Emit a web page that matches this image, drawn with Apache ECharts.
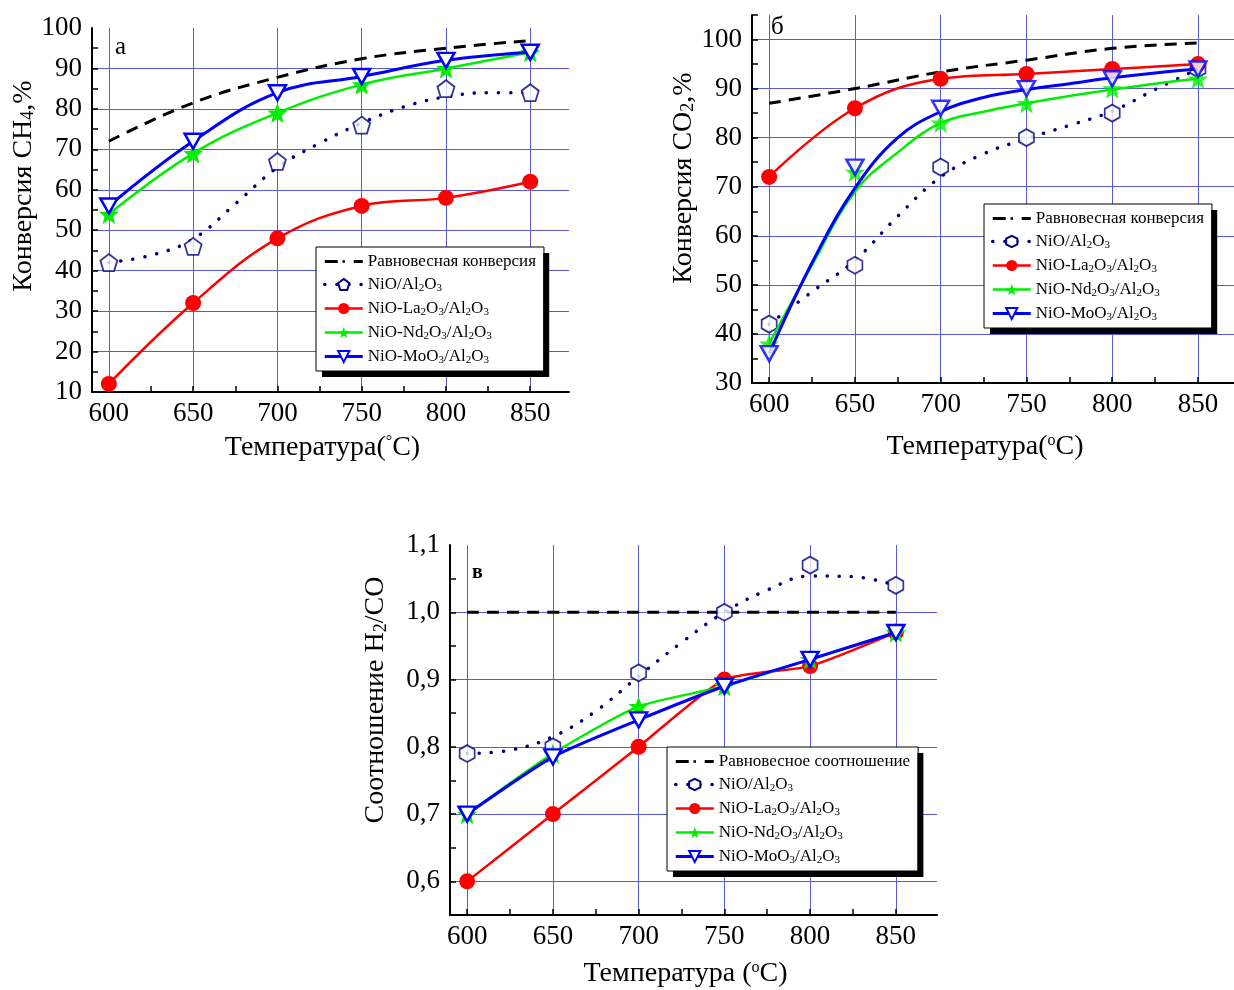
<!DOCTYPE html>
<html>
<head>
<meta charset="utf-8">
<script src="https://cdn.jsdelivr.net/npm/echarts@6/dist/echarts.min.js"></script>
<style>
  html, body { margin: 0; padding: 0; background: #fff; }
  #main { width: 1234px; height: 990px; }
</style>
</head>
<body>
<div id="main"></div>
<script>
// температуры (°C)
const temps = [600, 650, 700, 750, 800, 850];
const fitTemps = [600, 625, 650, 675, 700, 725, 750, 775, 800, 825, 850];

// панель а: конверсия CH4, %
const aEquil = [72, 81.5, 87.8, 92.4, 95, 96.9];
const aNiO = [42, 46, 67, 76, 85, 84];
const aNiOFit = [42, 43.8, 47.8, 56.5, 65.5, 71.5, 76.5, 80.5, 83, 84, 84];
const aLa = [12, 32, 48, 56, 58, 62];
const aNd = [54, 69, 79, 86, 90, 94];
const aMo = [56, 72, 84, 88, 92, 94];

// панель б: конверсия CO2, %
const bEquil = [87, 90, 93.4, 95.8, 98.2, 99.3];
const bNiO = [42, 54, 74, 80, 85, 94];
const bNiOFit = [42, 48.6, 55, 64, 72, 76.7, 79.8, 82.5, 85.4, 89.8, 94];
const bLa = [72, 86, 92, 93, 94, 95];
const bNd = [38, 73, 83, 87, 90, 92];
const bNdFit = [38, 54, 69, 77, 83, 85.3, 87, 88.5, 89.8, 91, 92];
const bMo = [36, 74, 86, 90, 92, 94];
const bMoFit = [36, 54.5, 69.7, 80, 85.3, 88.2, 89.8, 91, 92.2, 93.2, 94];

// панель в: соотношение H2/CO
const cEquil = [1, 1, 1, 1, 1, 1];
const cNiO = [0.79, 0.80, 0.91, 1.00, 1.07, 1.04];
const cNiOFit = [0.79, 0.795, 0.815, 0.853, 0.905, 0.955, 1.0, 1.033, 1.054, 1.053, 1.04];
const cLa = [0.60, 0.70, 0.80, 0.90, 0.92, 0.97];
const cNd = [0.70, 0.79, 0.86, 0.89, 0.93, 0.97];
const cMo = [0.70, 0.785, 0.84, 0.89, 0.93, 0.97];

// деления осей
const xMajor = [600, 650, 700, 750, 800, 850];
const xMinor = [625, 675, 725, 775, 825];
const aYLabels = [10, 20, 30, 40, 50, 60, 70, 80, 90, 100];
const aYGrid = [20, 30, 40, 50, 60, 70, 80, 90];
const aYMinor = [15, 25, 35, 45, 55, 65, 75, 85, 95];
const bYLabels = [30, 40, 50, 60, 70, 80, 90, 100];
const bYGrid = [40, 50, 60, 70, 80, 90, 100];
const bYMinor = [35, 45, 55, 65, 75, 85, 95, 105];
const cYLabels = [0.6, 0.7, 0.8, 0.9, 1.0, 1.1];
const cYGrid = [0.6, 0.7, 0.8, 0.9, 1.0];
const cYMinor = [0.65, 0.75, 0.85, 0.95, 1.05];

const FONT = 'Liberation Serif';
const NAVY = '#000080';
const RED = '#ff0000';
const GREEN = '#00ee00';
const BLUE = '#0000ff';
const GRID_BLUE = '#5a5ad6';

const PENTAGON = 'path://M0,-10 L9.51,-3.09 L5.88,8.09 L-5.88,8.09 L-9.51,-3.09 Z';
const HEXAGON = 'path://M0,-10 L8.66,-5 L8.66,5 L0,10 L-8.66,5 L-8.66,-5 Z';
const STAR = 'path://M0,-10 L2.6,-3.09 L9.51,-3.09 L4.1,1.3 L5.88,8.09 L0,4.3 L-5.88,8.09 L-4.1,1.3 L-9.51,-3.09 L-2.6,-3.09 Z';
const TRIANGLE = 'path://M-10,-8 L10,-8 L0,9 Z';
// точка для значка «— · —» в легенде
const DOT = 'path://M-1,-1 h2 v2 h-2 Z M-4.5,-4.5 h0.01 v0.01 h-0.01 Z M4.5,4.5 h0.01 v0.01 h-0.01 Z';

const sub = (t) => '{s|' + t + '}';
const nrm = (t) => '{n|' + t + '}';
const legendLabels = {
  eqConv: 'Равновесная конверсия',
  eqRatio: 'Равновесное соотношение',
  ni: nrm('NiO/Al') + sub(2) + nrm('O') + sub(3),
  la: nrm('NiO-La') + sub(2) + nrm('O') + sub(3) + nrm('/Al') + sub(2) + nrm('O') + sub(3),
  nd: nrm('NiO-Nd') + sub(2) + nrm('O') + sub(3) + nrm('/Al') + sub(2) + nrm('O') + sub(3),
  mo: nrm('NiO-MoO') + sub(3) + nrm('/Al') + sub(2) + nrm('O') + sub(3)
};

function pairs(xs, ys) {
  return xs.map((x, i) => [x, ys[i]]);
}

function nameRich() {
  return {
    n: { fontFamily: FONT, fontSize: 28, color: '#000' },
    s: { fontFamily: FONT, fontSize: 18, color: '#000', padding: [10, 0, 0, 0] },
    o: { fontFamily: FONT, fontSize: 16, color: '#000', padding: [0, 0, 12, 0] }
  };
}

function mainX(g, min, max, name, gap) {
  return {
    type: 'value', gridIndex: g, min: min, max: max,
    axisLine: { onZero: false, lineStyle: { color: '#000', width: 2 } },
    axisTick: { inside: true, length: 6, customValues: xMajor, lineStyle: { color: '#000', width: 1.5 } },
    axisLabel: { customValues: xMajor, color: '#000', fontFamily: FONT, fontSize: 27, margin: 8 },
    splitLine: { show: true, lineStyle: { color: GRID_BLUE, width: 1 } },
    name: name, nameLocation: 'middle', nameGap: gap,
    nameTextStyle: { rich: nameRich(), padding: [0, 16, 0, 0] }
  };
}
function minorX(g, min, max) {
  return {
    type: 'value', gridIndex: g, min: min, max: max, position: 'bottom',
    axisLine: { show: false, onZero: false },
    axisLabel: { show: false },
    splitLine: { show: false },
    axisTick: { inside: true, length: 6, customValues: xMinor, lineStyle: { color: '#000', width: 1.5 } }
  };
}
function mainY(g, min, max, labels, grid, fmt, name, gap, shift) {
  return {
    type: 'value', gridIndex: g, min: min, max: max,
    axisLine: { show: true, onZero: false, lineStyle: { color: '#000', width: 2 } },
    axisTick: { show: true, inside: true, length: 6, customValues: grid, lineStyle: { color: '#000', width: 1.5 } },
    axisLabel: { customValues: labels, color: '#000', fontFamily: FONT, fontSize: 27, margin: 10, formatter: fmt },
    splitLine: { show: true, lineStyle: { color: GRID_BLUE, width: 1 } },
    name: name, nameLocation: 'middle', nameGap: gap,
    nameTextStyle: { rich: nameRich(), padding: [0, 0, 0, shift] }
  };
}
function minorY(g, min, max, ticks) {
  return {
    type: 'value', gridIndex: g, min: min, max: max, position: 'left',
    axisLine: { show: false, onZero: false },
    axisLabel: { show: false },
    splitLine: { show: false },
    axisTick: { show: true, inside: true, length: 6, customValues: ticks, lineStyle: { color: '#000', width: 1.5 } }
  };
}

const commaFmt = (v) => v.toFixed(1).replace('.', ',');

function panelSeries(p, opts) {
  const ax = { xAxisIndex: 2 * p, yAxisIndex: 2 * p };
  const sm = opts.smooth;
  const list = [];
  list.push(Object.assign({
    name: opts.prefix + 'eq', type: 'line', data: pairs(temps, opts.eq), smooth: 0.4,
    showSymbol: false, symbol: DOT, itemStyle: { color: '#000' },
    lineStyle: { color: '#000', width: 3, type: [12, 8] }, z: 2
  }, ax));
  // NiO/Al2O3: точки и сглаженная кривая
  list.push(Object.assign({
    name: opts.prefix + 'ni', type: 'line', data: pairs(fitTemps, opts.niFit), smooth: 0.4,
    showSymbol: false, symbol: opts.niSymbol, symbolSize: opts.niSize,
    itemStyle: { color: '#fff', borderColor: NAVY, borderWidth: 1.8 },
    lineStyle: { color: NAVY, width: 3.5, type: [0.1, 12], cap: 'round' }, z: 3
  }, ax));
  list.push(Object.assign({
    name: opts.prefix + 'niPts', type: 'scatter', data: pairs(temps, opts.ni),
    symbol: opts.niSymbol, symbolSize: opts.niSize,
    itemStyle: { color: '#fff', borderColor: NAVY, borderWidth: 1.8 }, z: 4
  }, ax));
  list.push(Object.assign({
    name: opts.prefix + 'la', type: 'line', data: pairs(temps, opts.la), smooth: sm,
    symbol: 'circle', symbolSize: 16, itemStyle: { color: RED },
    lineStyle: { color: RED, width: 2.5 }, z: 5
  }, ax));
  const ndLine = opts.ndFit ? pairs(fitTemps, opts.ndFit) : pairs(temps, opts.nd);
  list.push(Object.assign({
    name: opts.prefix + 'nd', type: 'line', data: ndLine, smooth: opts.ndFit ? 0.4 : sm,
    showSymbol: !opts.ndFit, symbol: STAR, symbolSize: 20, itemStyle: { color: GREEN },
    lineStyle: { color: GREEN, width: 2.5 }, z: 6
  }, ax));
  if (opts.ndFit) {
    list.push(Object.assign({
      name: opts.prefix + 'ndPts', type: 'scatter', data: pairs(temps, opts.nd),
      symbol: STAR, symbolSize: 20, itemStyle: { color: GREEN }, z: 6
    }, ax));
  }
  const moLine = opts.moFit ? pairs(fitTemps, opts.moFit) : pairs(temps, opts.mo);
  list.push(Object.assign({
    name: opts.prefix + 'mo', type: 'line', data: moLine, smooth: opts.moFit ? 0.4 : sm,
    showSymbol: !opts.moFit, symbol: TRIANGLE, symbolSize: [17, 15],
    itemStyle: { color: '#fff', borderColor: BLUE, borderWidth: 2.5 },
    lineStyle: { color: BLUE, width: 3 }, z: 7
  }, ax));
  if (opts.moFit) {
    list.push(Object.assign({
      name: opts.prefix + 'moPts', type: 'scatter', data: pairs(temps, opts.mo),
      symbol: TRIANGLE, symbolSize: [17, 15],
      itemStyle: { color: '#fff', borderColor: BLUE, borderWidth: 2.5 }, z: 7
    }, ax));
  }
  return list;
}

const series = [].concat(
  panelSeries(0, { prefix: 'a', eq: aEquil, ni: aNiO, niFit: aNiOFit, niSymbol: PENTAGON, niSize: 17,
    la: aLa, nd: aNd, mo: aMo, smooth: 0.4 }),
  panelSeries(1, { prefix: 'b', eq: bEquil, ni: bNiO, niFit: bNiOFit, niSymbol: HEXAGON, niSize: [15, 17],
    la: bLa, nd: bNd, ndFit: bNdFit, mo: bMo, moFit: bMoFit, smooth: 0.4 }),
  panelSeries(2, { prefix: 'c', eq: cEquil, ni: cNiO, niFit: cNiOFit, niSymbol: HEXAGON, niSize: [15, 17],
    la: cLa, nd: cNd, mo: cMo, smooth: 0.2 })
);

function labelOf(name) {
  if (name === 'aeq' || name === 'beq') return legendLabels.eqConv;
  if (name === 'ceq') return legendLabels.eqRatio;
  return legendLabels[name.slice(1)];
}

// два слоя легенды: нижний даёт белый фон и чёрную тень, верхний — рамку и содержимое
function makeLegend(prefix, left, top, isShadow) {
  const ink = isShadow ? 'rgba(0,0,0,0)' : '#000';
  const lg = {
    orient: 'vertical', left: left, top: top,
    data: [
      { name: prefix + 'eq', lineStyle: { type: [13, 16] } },
      prefix + 'ni', prefix + 'la', prefix + 'nd', prefix + 'mo'
    ],
    selectedMode: false,
    padding: [6, 8, 5, 7],
    itemWidth: 38, itemHeight: 14, itemGap: 5,
    lineStyle: { width: 'inherit' },
    formatter: labelOf,
    textStyle: {
      fontFamily: FONT, fontSize: 17, color: ink,
      rich: {
        n: { fontFamily: FONT, fontSize: 17, lineHeight: 18, color: ink },
        s: { fontFamily: FONT, fontSize: 11, lineHeight: 10, color: ink, padding: [8, 0, 0, 0] }
      }
    }
  };
  if (isShadow) {
    Object.assign(lg, {
      z: 4, backgroundColor: '#fff', borderWidth: 0,
      shadowColor: '#000', shadowBlur: 0, shadowOffsetX: 6, shadowOffsetY: 6,
      itemStyle: { opacity: 0 }, lineStyle: { opacity: 0 }
    });
  } else {
    Object.assign(lg, { z: 5, backgroundColor: 'transparent', borderColor: '#000', borderWidth: 1 });
  }
  return lg;
}

const letterStyle = { fontFamily: FONT, fontSize: 25, fontWeight: 'normal', color: '#000' };

const option = {
  animation: false,
  backgroundColor: '#fff',
  title: [
    { text: 'а', left: 110, top: 30, textStyle: letterStyle },
    { text: 'б', left: 766, top: 10, textStyle: letterStyle },
    { text: 'в', left: 467, top: 558, textStyle: Object.assign({}, letterStyle, { fontSize: 20, fontWeight: 'bold' }) }
  ],
  grid: [
    { left: 92, top: 28, width: 477, height: 364 },
    { left: 752, top: 15, width: 482, height: 368 },
    { left: 450, top: 545, width: 487, height: 370 }
  ],
  xAxis: [
    mainX(0, 590, 873, '{n|Температура(}{o|°}{n|C)}', 42),
    minorX(0, 590, 873),
    mainX(1, 590, 871, '{n|Температура(}{o|o}{n|C)}', 50),
    minorX(1, 590, 871),
    mainX(2, 590, 874, '{n|Температура (}{o|o}{n|C)}', 45),
    minorX(2, 590, 874)
  ],
  yAxis: [
    mainY(0, 10, 100, aYLabels, aYGrid, null, '{n|Конверсия CH}{s|4}{n|,%}', 49, 48),
    minorY(0, 10, 100, aYMinor),
    mainY(1, 30, 105, bYLabels, bYGrid, null, '{n|Конверсия CO}{s|2}{n|,%}', 52, 42),
    minorY(1, 30, 105, bYMinor),
    mainY(2, 0.55, 1.1, cYLabels, cYGrid, commaFmt, '{n|Соотношение H}{s|2}{n|/CO}', 60, 60),
    minorY(2, 0.55, 1.1, cYMinor)
  ],
  legend: [
    makeLegend('a', 316, 247, true), makeLegend('a', 316, 247, false),
    makeLegend('b', 984, 204, true), makeLegend('b', 984, 204, false),
    makeLegend('c', 667, 747, true), makeLegend('c', 667, 747, false)
  ],
  series: series
};

const chart = echarts.init(document.getElementById('main'), null, { renderer: 'canvas' });
chart.setOption(option);
</script>
</body>
</html>
